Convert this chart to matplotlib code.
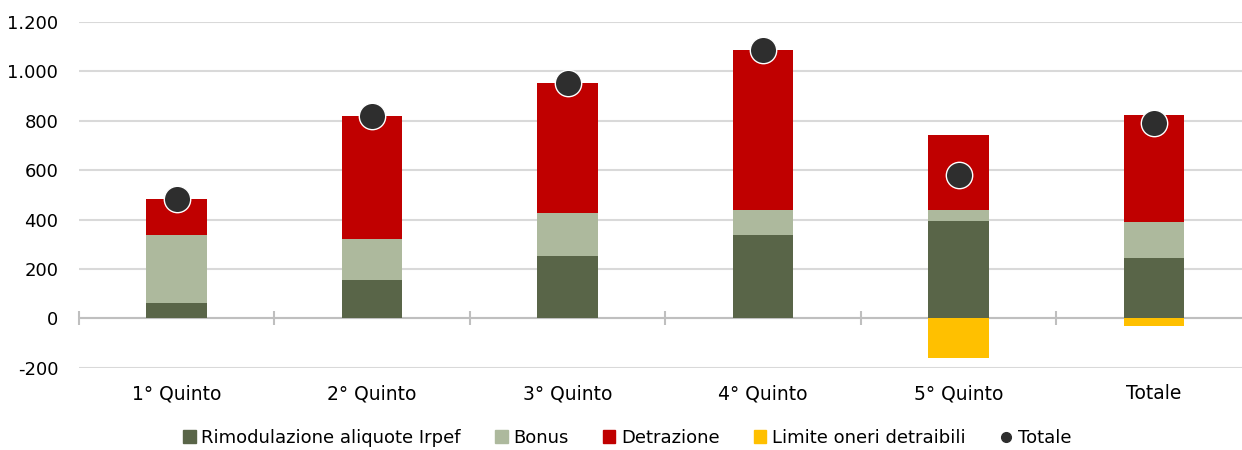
import matplotlib.pyplot as plt
import numpy as np
from matplotlib.patches import Patch
from matplotlib.lines import Line2D
from matplotlib.ticker import FuncFormatter

plt.rcParams['font.family'] = ['DejaVu Sans']

categories = ["1° Quinto", "2° Quinto", "3° Quinto", "4° Quinto", "5° Quinto", "Totale"]
rimodulazione = [61, 154, 254, 338, 393, 243]
bonus = [275, 168, 172, 99, 44, 149]
detrazione = [149, 498, 528, 648, 305, 430]
limite_oneri = [0, 0, 0, 0, -162, -32]
totale = [485, 820, 954, 1085, 580, 790]

series_names = ["Rimodulazione aliquote Irpef", "Bonus", "Detrazione",
                "Limite oneri detraibili", "Totale"]
colors = ["#596548", "#adb99d", "#c00000", "#ffc000", "#2e2e2e"]


def thousands(v, pos):
    return f"{int(v):,}".replace(",", ".")


def main():
    fig = plt.figure(figsize=(12.42, 4.5), dpi=100)
    ax = fig.add_axes([79 / 1242, 1 - 367.7 / 450, 1172.7 / 1242, 345.7 / 450])

    x = np.arange(len(categories))
    w = 0.31
    pos = np.array(rimodulazione)
    ax.bar(x, rimodulazione, w, color=colors[0], zorder=2)
    ax.bar(x, bonus, w, bottom=pos, color=colors[1], zorder=2)
    pos = pos + np.array(bonus)
    ax.bar(x, detrazione, w, bottom=pos, color=colors[2], zorder=2)
    ax.bar(x, limite_oneri, w, color=colors[3], zorder=2)
    ax.plot(x, totale, "o", color=colors[4], markersize=19, mec="white", mew=1, zorder=3)

    ax.set_xlim(-0.5, len(categories) - 0.5)
    ax.set_ylim(-200, 1200)
    ax.set_yticks(np.arange(-200, 1201, 200))
    ax.yaxis.set_major_formatter(FuncFormatter(thousands))
    ax.grid(axis="y", color="#d9d9d9", linewidth=1.5, zorder=0)
    ax.set_axisbelow(True)
    for s in ax.spines.values():
        s.set_visible(False)
    ax.tick_params(axis="y", length=0, pad=15, labelsize=13)
    ax.set_xticks(x)
    ax.set_xticklabels(categories)
    ax.tick_params(axis="x", length=0, pad=12, labelsize=13.5)

    # zero axis with category separators
    ax.axhline(0, color="#bfbfbf", linewidth=1.5, zorder=1)
    sec = ax.secondary_xaxis(200 / 1400)
    sec.set_xticks(np.arange(-0.5, len(categories), 1.0))
    sec.set_xticklabels([])
    sec.tick_params(direction="inout", length=10, width=1.5, color="#bfbfbf")
    sec.spines["bottom"].set_visible(False)

    handles = [Patch(color=c) for c in colors[:4]]
    handles.append(Line2D([], [], marker="o", linestyle="none", color=colors[4], markersize=7))
    fig.legend(handles, series_names, loc="center", bbox_to_anchor=(0.505, 1 - 438 / 450),
               ncol=5, frameon=False, handlelength=0.7, handleheight=0.7,
               handletextpad=0.3, columnspacing=1.9,
               prop={"family": ["DejaVu Sans"], "size": 13})

    fig.savefig("out.png", dpi=100)


if __name__ == "__main__":
    main()
